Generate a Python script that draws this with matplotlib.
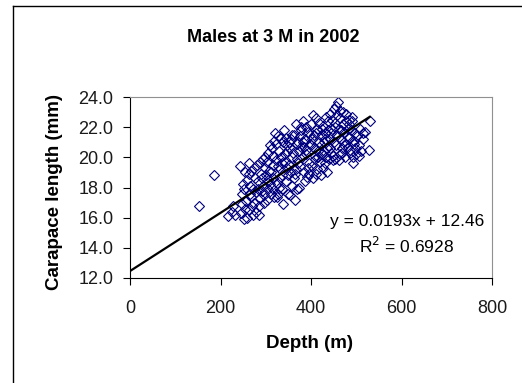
import numpy as np
import matplotlib.pyplot as plt
from matplotlib.lines import Line2D

plt.rcParams['font.family'] = ['Liberation Sans', 'DejaVu Sans']

# depth (m) and carapace length (mm)
depth = [153, 186,
         217, 225, 232, 228,
         242, 245, 248, 250, 252, 254, 256, 258, 255, 247, 251, 259,
         262, 264, 266, 268, 270, 272, 274, 276, 278, 263, 267, 271, 275, 279, 265,
         281, 283, 285, 287, 289, 291, 293, 295, 297, 299, 284, 288, 292, 296, 282, 298,
         301, 303, 305, 307, 309, 311, 313, 315, 317, 319, 302, 306, 310, 314, 318, 304, 312, 316,
         321, 323, 325, 327, 329, 331, 333, 335, 337, 339, 322, 326, 330, 334, 338, 324, 328, 332, 336,
         341, 343, 345, 347, 349, 351, 353, 355, 357, 359, 342, 346, 350, 354, 358, 344, 348, 352, 356,
         361, 363, 365, 367, 369, 371, 373, 375, 377, 379, 362, 366, 370, 374, 378, 364, 368, 372, 376,
         381, 383, 385, 387, 389, 391, 393, 395, 397, 399, 382, 386, 390, 394, 398, 384, 388, 396,
         401, 403, 405, 407, 409, 411, 413, 415, 417, 419, 402, 406, 410, 414, 418, 404, 408, 412, 416,
         421, 423, 425, 427, 429, 431, 433, 435, 437, 439, 422, 426, 430, 434, 438, 424, 428, 432, 436,
         441, 443, 445, 447, 449, 451, 453, 455, 457, 459, 442, 446, 450, 454, 458, 444, 448, 452, 456,
         461, 463, 465, 467, 469, 471, 473, 475, 477, 479, 462, 466, 470, 474, 478, 464, 468, 472,
         481, 483, 485, 487, 489, 491, 493, 495, 497, 499, 482, 486, 490, 494, 498, 484, 492,
         502, 505, 508, 511, 514, 516, 520, 529, 530, 507]
length = [16.8, 18.8,
          16.1, 16.4, 16.2, 16.8,
          19.4, 16.3, 17.6, 18.2, 15.9, 16.6, 17.1, 18.5, 19.0, 16.9, 17.9, 16.0,
          19.6, 18.9, 18.1, 17.4, 16.8, 16.2, 19.3, 18.6, 17.7, 16.5, 19.1, 17.9, 17.0, 16.4, 17.6,
          19.5, 18.4, 16.2, 17.3, 18.9, 17.8, 19.9, 18.1, 17.0, 19.3, 16.8, 19.7, 18.6, 17.5, 17.9, 20.0,
          18.8, 17.2, 20.3, 19.1, 18.2, 17.6, 20.6, 19.5, 18.6, 21.1, 19.7, 17.9, 20.8, 18.0, 17.4, 18.5, 19.0, 20.1,
          21.6, 19.8, 18.3, 17.6, 20.4, 19.2, 21.3, 18.8, 17.9, 16.9, 20.9, 19.4, 18.0, 20.0, 21.0, 17.4, 21.4, 18.6, 19.6,
          21.8, 20.2, 18.4, 19.3, 17.6, 21.0, 20.6, 19.0, 18.1, 21.5, 19.7, 20.8, 18.8, 17.5, 20.0, 21.3, 20.4, 19.5, 21.2,
          20.3, 18.6, 17.2, 22.2, 19.9, 21.0, 18.0, 19.4, 20.7, 21.8, 21.5, 19.2, 17.9, 20.4, 22.0, 18.9, 20.9, 19.6, 21.4,
          20.0, 22.4, 19.0, 21.2, 20.5, 18.7, 21.7, 19.6, 20.9, 22.2, 21.0, 18.4, 20.2, 19.3, 21.5, 20.7, 22.0, 18.9,
          20.8, 19.4, 22.8, 21.5, 20.1, 18.9, 21.9, 20.4, 22.3, 19.7, 21.2, 20.6, 22.6, 19.2, 21.0, 18.6, 19.9, 21.6, 20.0,
          21.4, 18.8, 20.2, 22.1, 21.0, 19.6, 22.7, 20.6, 21.8, 19.9, 20.8, 19.3, 21.6, 20.0, 22.4, 21.9, 20.4, 21.2, 19.0,
          22.9, 21.2, 20.3, 21.9, 19.8, 23.2, 22.0, 20.8, 21.5, 23.7, 20.6, 22.5, 21.0, 19.9, 22.8, 21.6, 20.1, 22.3, 23.4,
          21.9, 20.2, 22.6, 21.2, 20.6, 22.2, 21.7, 20.0, 22.9, 21.4, 19.8, 21.8, 23.0, 20.8, 22.4, 23.1, 20.3, 21.0,
          20.7, 22.2, 21.3, 20.3, 21.8, 22.7, 19.6, 20.9, 21.6, 20.2, 21.9, 20.5, 22.4, 21.1, 20.6, 22.5, 20.0,
          21.4, 20.8, 21.9, 20.4, 21.6, 21.2, 21.7, 20.5, 22.4, 20.1]

slope = 0.0193
intercept = 12.46
r2 = 0.6928

x_ticks = [0, 200, 400, 600, 800]
y_ticks = [12.0, 14.0, 16.0, 18.0, 20.0, 22.0, 24.0]

fig = plt.figure(figsize=(5.22, 3.83), dpi=100)
ax = fig.add_axes([130 / 522, 105 / 383, 362 / 522, 181 / 383])

ax.plot(depth, length, linestyle='none', marker='D', markersize=5.5,
        markerfacecolor='none', markeredgecolor='#000080', markeredgewidth=0.8)

# linear trend line, from 0 to the deepest sample
xt = np.array([0, max(depth)])
ax.plot(xt, slope * xt + intercept, color='black', linewidth=1.6)

ax.set_xlim(0, 800)
ax.set_ylim(12, 24)
ax.set_xticks(x_ticks)
ax.set_xticklabels([str(t) for t in x_ticks])
ax.set_yticks(y_ticks)
ax.set_yticklabels(['%.1f' % t for t in y_ticks])
ax.tick_params(axis='x', direction='out', length=5, pad=11, labelsize=13, colors='black')
ax.tick_params(axis='y', direction='out', length=5, pad=7, labelsize=13, colors='black')
for lab in ax.get_xticklabels() + ax.get_yticklabels():
    lab.set_color('#1a1a1a')

ax.spines['top'].set_color('#909090')
ax.spines['right'].set_color('#909090')
ax.spines['left'].set_color('black')
ax.spines['bottom'].set_color('black')

fig.text(309 / 522, 1 - 343 / 383, 'Depth (m)', ha='center', va='center',
         fontsize=13.5, fontweight='bold')
fig.text(55 / 522, 1 - 192 / 383, 'Carapace length (mm)', ha='center', va='center',
         rotation=90, fontsize=13.5, fontweight='bold')
fig.text(273 / 522, 1 - 38 / 383, 'Males at 3 M in 2002', ha='center', va='center',
         fontsize=13, fontweight='bold')

ax.text(612, 14.85, 'y = %.4fx + %.2f\nR$^2$ = %.4f' % (slope, intercept, r2),
        ha='center', va='center', fontsize=12.5, linespacing=1.35)

# chart area border (only the top and left edges fall inside the picture)
fig.add_artist(Line2D([13 / 522, 13 / 522], [0, 1 - 6 / 383], color='black', linewidth=1,
                      transform=fig.transFigure))
fig.add_artist(Line2D([13 / 522, 1], [1 - 6 / 383, 1 - 6 / 383], color='black', linewidth=1,
                      transform=fig.transFigure))

fig.savefig('out.png', dpi=100)
